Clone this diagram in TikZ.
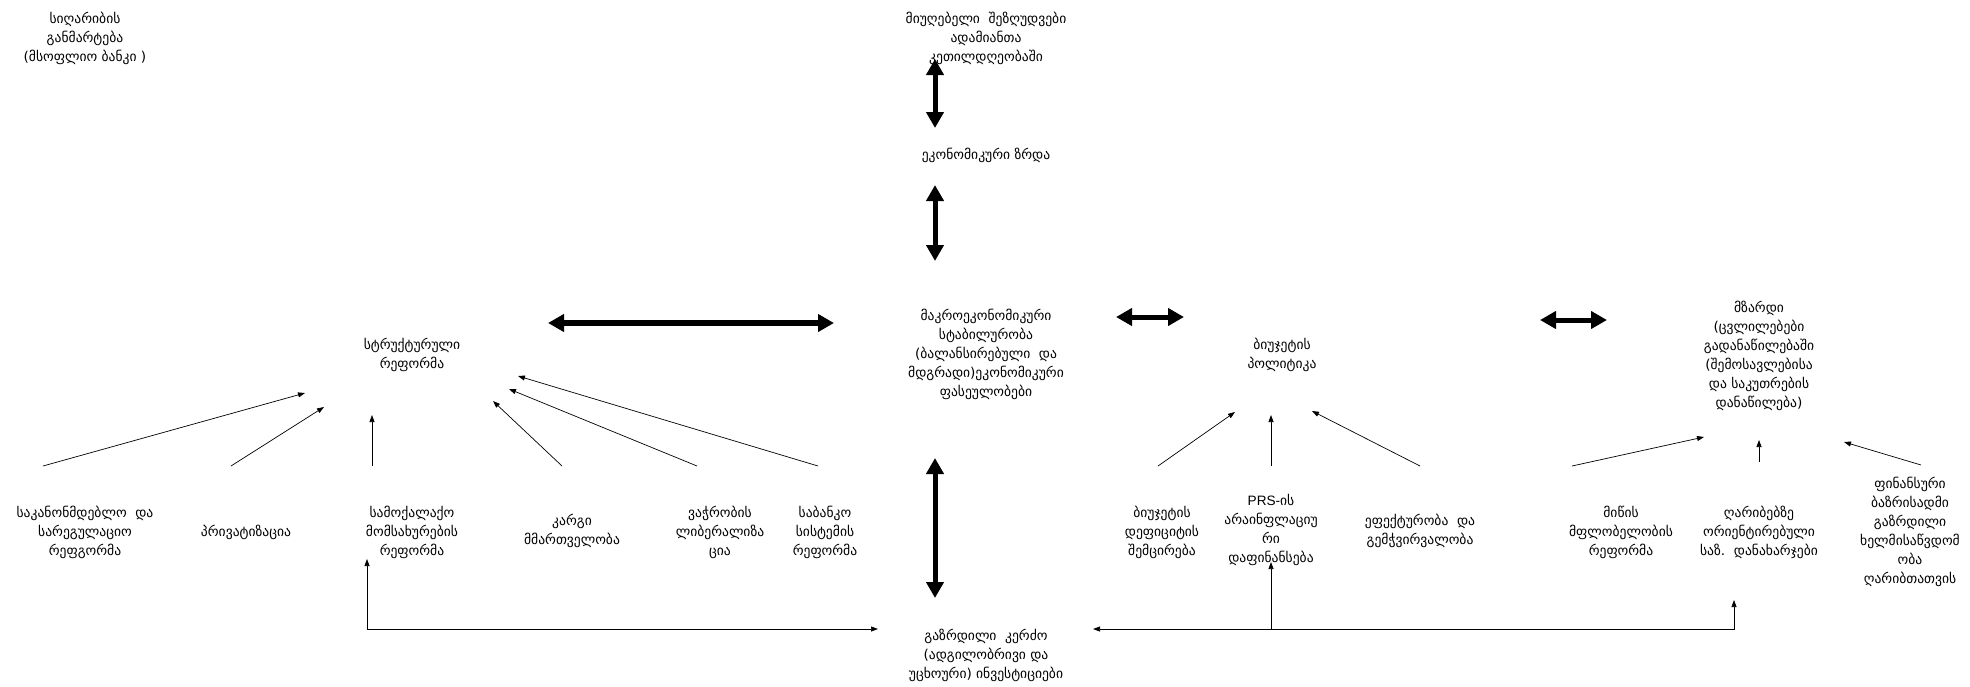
\documentclass[tikz,border=0pt]{standalone}
\usepackage{fontspec}
\setmainfont{DejaVu Sans}
\newfontfamily\arialf{Liberation Sans}
\usetikzlibrary{arrows.meta}
\begin{document}
\begin{tikzpicture}[x=1pt,y=-1pt,
  txt/.style={align=center, inner sep=0pt, font=\fontsize{13.6}{19}\selectfont},
  big/.style={line width=5pt, {Triangle[length=16pt,width=17pt]}-{Triangle[length=16pt,width=17pt]}},
  thin/.style={line width=0.7pt, -{Triangle[length=7pt,width=5pt]}},
  thinboth/.style={line width=0.7pt, {Triangle[length=7pt,width=5pt]}-{Triangle[length=7pt,width=5pt]}}]
\useasboundingbox (0,0) rectangle (1970,686);

% nodes
\node[txt] (poverty) at (85,38) {სიღარიბის\\განმარტება\\(მსოფლიო ბანკი )};
\node[txt] (limits) at (986,38) {მიუღებელი\ \ შეზღუდვები\\ადამიანთა\\კეთილდღეობაში};
\node[txt] (growth) at (986,155) {ეკონომიკური ზრდა};
\node[txt] (macro) at (986,354) {მაკროეკონომიკური\\სტაბილურობა\\(ბალანსირებული\ \ და\\მდგრადი)ეკონომიკური\\ფასეულობები};
\node[txt] (struct) at (412,355) {სტრუქტურული\\რეფორმა};
\node[txt] (budget) at (1282,355) {ბიუჯეტის\\პოლიტიკა};
\node[txt] (pro) at (1759,356) {მზარდი\\(ცვლილებები\\გადანაწილებაში\\(შემოსავლებისა\\და საკუთრების\\დანაწილება)};
\node[txt] (legal) at (85,532) {საკანონმდებლო\ \ და\\სარეგულაციო\\რეფგორმა};
\node[txt] (priv) at (246,532) {პრივატიზაცია};
\node[txt] (civil) at (412,532) {სამოქალაქო\\მომსახურების\\რეფორმა};
\node[txt] (gov) at (572,531) {კარგი\\მმართველობა};
\node[txt] (trade) at (720,532) {ვაჭრობის\\ლიბერალიზა\\ცია};
\node[txt] (bank) at (825,532) {საბანკო\\სისტემის\\რეფორმა};
\node[txt] (deficit) at (1162,532) {ბიუჯეტის\\დეფიციტის\\შემცირება};
\node[txt] (prs) at (1271,530) {{\arialf PRS-}ის\\არაინფლაციუ\\რი\\დაფინანსება};
\node[txt] (eff) at (1420,531) {ეფექტურობა\ \ და\\გემჭვირვალობა};
\node[txt] (land) at (1621,532) {მიწის\\მფლობელობის\\რეფორმა};
\node[txt] (poor) at (1759,532) {ღარიბებზე\\ორიენტირებული\\საზ.\ \ დანახარჯები};
\node[txt] (fin) at (1910,532) {ფინანსური\\ბაზრისადმი\\გაზრდილი\\ხელმისაწვდომ\\ობა\\ღარიბთათვის};
\node[txt] (invest) at (986,655) {გაზრდილი\ \ კერძო\\(ადგილობრივი და\\უცხოური) ინვესტიციები};

% connector end points
\coordinate (lg1) at (935,59);   \coordinate (lg2) at (935,128);
\coordinate (gm1) at (935,185);  \coordinate (gm2) at (935,261);
\coordinate (sm1) at (548,323);  \coordinate (sm2) at (834,323);
\coordinate (mb1) at (1116,317); \coordinate (mb2) at (1184,317);
\coordinate (bp1) at (1540,320); \coordinate (bp2) at (1607,320);
\coordinate (mi1) at (935,458);  \coordinate (mi2) at (935,598);

\draw[big] (lg1) -- (lg2);
\draw[big] (gm1) -- (gm2);
\draw[big, line width=6pt] (sm1) -- (sm2);
\draw[big] (mb1) -- (mb2);
\draw[big] (bp1) -- (bp2);
\draw[big] (mi1) -- (mi2);

% structural reform inputs
\coordinate (legalT) at (43,466);   \coordinate (sA) at (305,393);
\coordinate (privT) at (231,466);   \coordinate (sB) at (324,407);
\coordinate (civilT) at (372,466);  \coordinate (sC) at (372,415);
\coordinate (govT) at (562,466);    \coordinate (sD) at (493,401);
\coordinate (tradeT) at (697,466);  \coordinate (sE) at (509,389);
\coordinate (bankT) at (818,466);   \coordinate (sF) at (518,376);
\draw[thin] (legalT) -- (sA);
\draw[thin] (privT) -- (sB);
\draw[thin] (civilT) -- (sC);
\draw[thin] (govT) -- (sD);
\draw[thin] (tradeT) -- (sE);
\draw[thin] (bankT) -- (sF);

% budget inputs
\coordinate (defT) at (1158,466); \coordinate (bA) at (1235,412);
\coordinate (prsT) at (1271,466); \coordinate (bB) at (1271,415);
\coordinate (effT) at (1420,466); \coordinate (bC) at (1312,411);
\draw[thin] (defT) -- (bA);
\draw[thin] (prsT) -- (bB);
\draw[thin] (effT) -- (bC);

% pro-poor inputs
\coordinate (landT) at (1572,466); \coordinate (pA) at (1704,437);
\coordinate (poorT) at (1759,462); \coordinate (pB) at (1759,440);
\coordinate (finT) at (1921,465);  \coordinate (pC) at (1844,442);
\draw[thin] (landT) -- (pA);
\draw[thin] (poorT) -- (pB);
\draw[thin] (finT) -- (pC);

% investment links
\coordinate (civilB) at (367,559);
\coordinate (invL) at (878,629);
\coordinate (invR) at (1093,629);
\coordinate (poorB) at (1734,600);
\coordinate (prsB) at (1271,562);
\coordinate (prsJ) at (1271,629);
\draw[thinboth] (civilB) |- (invL);
\draw[thinboth] (invR) -| (poorB);
\draw[thin] (prsJ) -- (prsB);
\end{tikzpicture}
\end{document}
